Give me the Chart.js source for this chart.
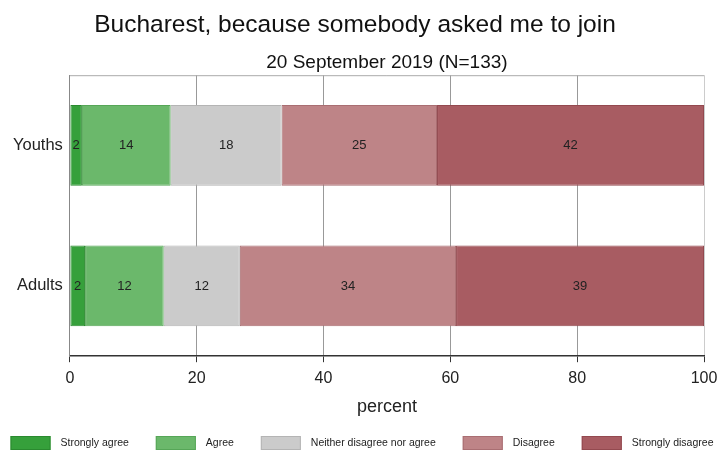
<!DOCTYPE html>
<html>
<head>
<meta charset="utf-8">
<script src="https://cdn.jsdelivr.net/npm/chart.js@4/dist/chart.umd.min.js"></script>
<style>
  html, body { margin: 0; padding: 0; background: #fff; }
  #wrap { width: 720px; height: 452px; }
</style>
</head>
<body>
<div id="wrap"><canvas id="chart"></canvas></div>
<script>
const groups = ["Youths", "Adults"];
const answers = ["Strongly agree", "Agree", "Neither disagree nor agree", "Disagree", "Strongly disagree"];
const youths = [1.9, 14.0, 17.5, 24.5, 42.1];
const adults = [2.4, 12.4, 12.0, 34.1, 39.1];
const xTicks = [0, 20, 40, 60, 80, 100];

const fills = ["#36a03b", "#6bb86b", "#cbcbcb", "#be8487", "#a85c62"];
const edges = ["#2a8a2f", "#56a657", "#b4b4b4", "#a96e72", "#93494f"];

const FONT = "'Liberation Sans', Arial, sans-serif";

// y-werte pro antwort zusammenstellen
const datasets = answers.map((a, i) => ({
  label: a,
  data: [youths[i], adults[i]],
  backgroundColor: fills[i],
  borderColor: edges[i],
  borderWidth: 1,
  borderSkipped: false,
  categoryPercentage: 1,
  barPercentage: 0.575
}));

// zahlen mittig in die segmente
const segLabels = {
  id: "segLabels",
  afterDatasetsDraw(chart) {
    const ctx = chart.ctx;
    ctx.save();
    ctx.font = "13px " + FONT;
    ctx.fillStyle = "#222";
    ctx.textAlign = "center";
    ctx.textBaseline = "middle";
    chart.data.datasets.forEach((ds, di) => {
      chart.getDatasetMeta(di).data.forEach((bar, i) => {
        const x = (bar.x + bar.base) / 2;
        ctx.fillText(String(Math.round(ds.data[i])), x, bar.y);
      });
    });
    ctx.restore();
  }
};

// obere rahmenlinie
const frameTop = {
  id: "frameTop",
  beforeDatasetsDraw(chart) {
    const { ctx, chartArea: a } = chart;
    ctx.save();
    ctx.strokeStyle = "#aaa";
    ctx.lineWidth = 1;
    ctx.beginPath();
    ctx.moveTo(a.left, a.top + 0.5);
    ctx.lineTo(a.right, a.top + 0.5);
    ctx.stroke();
    ctx.restore();
  }
};

// legende unten, weiter auseinander als die eingebaute
const wideLegend = {
  id: "wideLegend",
  afterDraw(chart) {
    const ctx = chart.ctx;
    const boxW = 40, boxH = 14, gap = 10, spacing = 27, top = 436;
    ctx.save();
    ctx.font = "10.5px " + FONT;
    const widths = chart.data.datasets.map(ds => ctx.measureText(ds.label).width);
    const total = widths.reduce((s, w) => s + boxW + gap + w, 0) + spacing * (widths.length - 1);
    let x = 362 - total / 2;
    chart.data.datasets.forEach((ds, i) => {
      ctx.fillStyle = ds.backgroundColor;
      ctx.fillRect(x, top, boxW, boxH);
      ctx.strokeStyle = ds.borderColor;
      ctx.strokeRect(x + 0.5, top + 0.5, boxW - 1, boxH - 1);
      ctx.fillStyle = "#222";
      ctx.textBaseline = "middle";
      ctx.fillText(ds.label, x + boxW + gap, top + boxH / 2);
      x += boxW + gap + widths[i] + spacing;
    });
    ctx.restore();
  }
};

new Chart(document.getElementById("chart"), {
  type: "bar",
  data: { labels: groups, datasets },
  plugins: [frameTop, segLabels, wideLegend],
  options: {
    indexAxis: "y",
    responsive: true,
    maintainAspectRatio: false,
    animation: false,
    layout: { padding: { left: 6, right: 16, top: 0, bottom: 34 } },
    scales: {
      x: {
        stacked: true,
        min: 0,
        max: 100,
        afterBuildTicks: s => { s.ticks = xTicks.map(v => ({ value: v })); },
        afterFit: s => { s.paddingRight = 16; },
        grid: {
          color: c => (c.tick && c.tick.value === 100 ? "#ccc" : "#999"),
          tickColor: "#333",
          tickLength: 6,
          lineWidth: 1
        },
        border: { color: "#333", width: 1.5 },
        ticks: { color: "#222", font: { family: FONT, size: 16 }, padding: 7, maxRotation: 0 },
        title: {
          display: true,
          text: "percent",
          color: "#222",
          font: { family: FONT, size: 18 },
          padding: { top: 1, bottom: 0 }
        }
      },
      y: {
        stacked: true,
        grid: { display: false, drawTicks: false },
        border: { color: "#888", width: 1 },
        ticks: { color: "#222", font: { family: FONT, size: 16.5 }, padding: 7 }
      }
    },
    plugins: {
      legend: { display: false },
      tooltip: { enabled: false },
      title: {
        display: true,
        text: "Bucharest, because somebody asked me to join",
        color: "#111",
        font: { family: FONT, size: 24.5, weight: "normal" },
        padding: { top: 11, bottom: 7 }
      },
      subtitle: {
        display: true,
        fullSize: false,
        text: "20 September 2019 (N=133)",
        color: "#111",
        font: { family: FONT, size: 19 },
        padding: { top: 4, bottom: 1 }
      }
    }
  }
});
</script>
</body>
</html>
